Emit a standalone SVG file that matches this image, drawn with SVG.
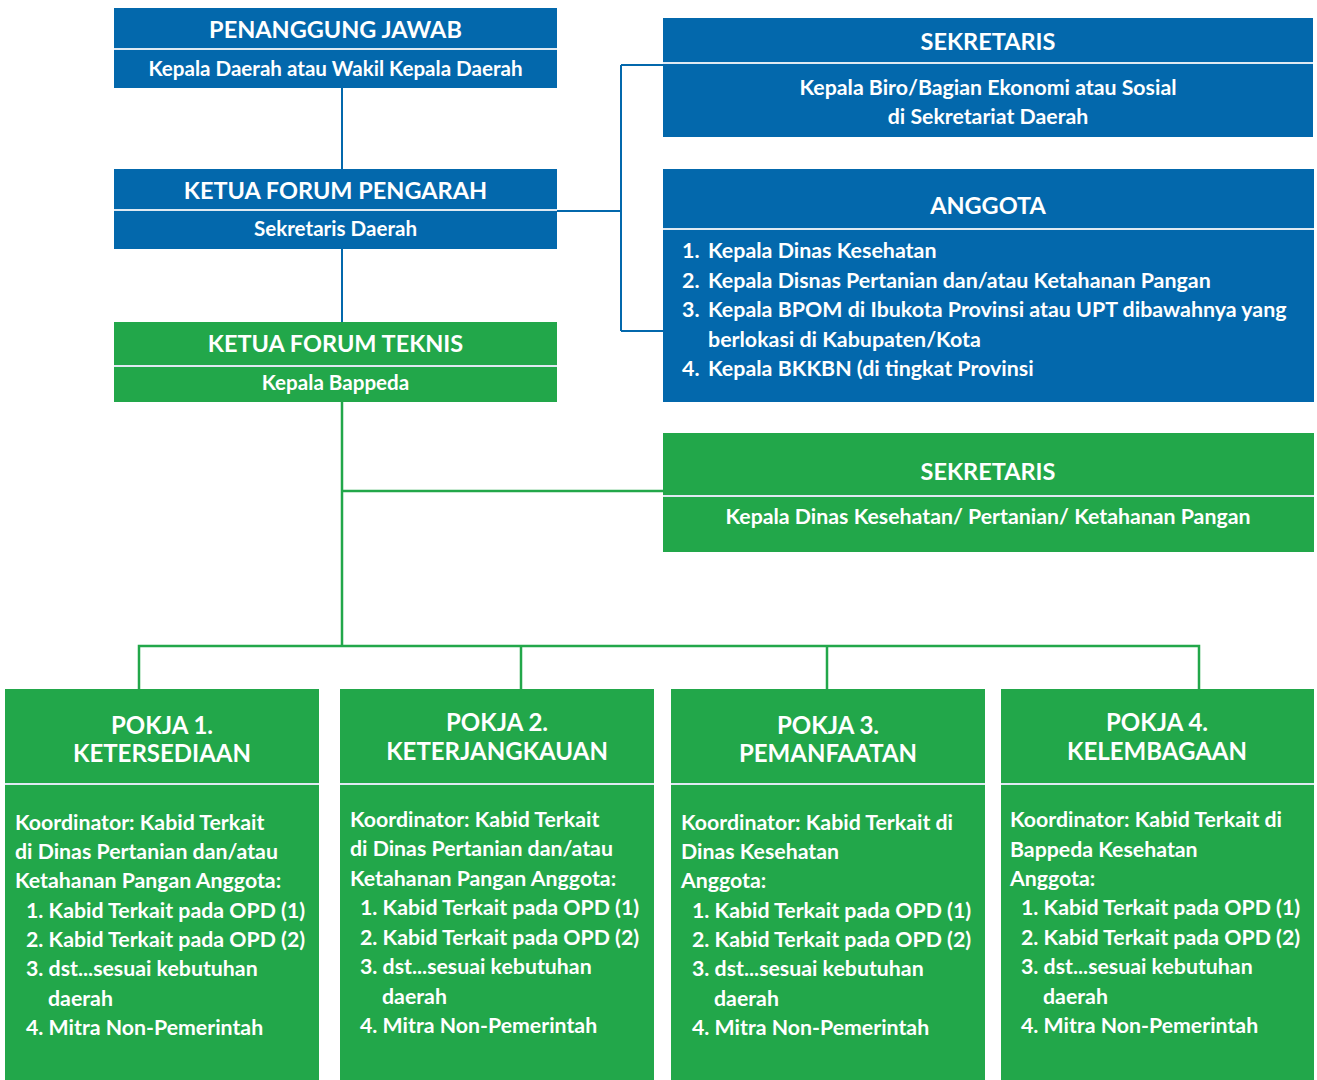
<svg xmlns="http://www.w3.org/2000/svg" width="1317" height="1080" viewBox="0 0 1317 1080">
<style>
text{font-family:Lato,"Noto Sans","Liberation Sans",sans-serif;font-weight:700;fill:#fff}
.blue{fill:#0368ac}
.green{fill:#22a74a}
.sep{stroke:#dfe9f2;stroke-width:2}
.t{font-size:23.5px;text-anchor:middle}
.p{font-size:24px;text-anchor:middle}
.s{font-size:20.6px;text-anchor:middle}
.m{font-size:21.3px;text-anchor:middle}
.a{font-size:21.4px}
.l{font-size:21.3px}
.cb{stroke:#0368ac;stroke-width:2;fill:none}
.cg{stroke:#22a74a;stroke-width:2.5;fill:none}
</style>
<rect width="1317" height="1080" fill="#fff"/>
<g id="connectors">
<path class="cb" d="M342 88V169M342 249V322M557 211H621M621 65V331M621 65H663M621 331H663"/>
<path class="cg" d="M342 402V646M342 491H663M139 689V646H1199V689M521 646V689M827 646V689"/>
</g>
<g id="penanggung-jawab">
<rect class="blue" x="114" y="8" width="443" height="80"/>
<line class="sep" x1="114" y1="49" x2="557" y2="49"/>
<text class="t" x="335.5" y="38">PENANGGUNG JAWAB</text>
<text class="s" x="335.5" y="76">Kepala Daerah atau Wakil Kepala Daerah</text>
</g>
<g id="ketua-forum-pengarah">
<rect class="blue" x="114" y="169" width="443" height="80"/>
<line class="sep" x1="114" y1="210" x2="557" y2="210"/>
<text class="t" x="335.5" y="199">KETUA FORUM PENGARAH</text>
<text class="s" x="335.5" y="236">Sekretaris Daerah</text>
</g>
<g id="ketua-forum-teknis">
<rect class="green" x="114" y="322" width="443" height="80"/>
<line class="sep" x1="114" y1="366" x2="557" y2="366"/>
<text class="t" x="335.5" y="352">KETUA FORUM TEKNIS</text>
<text class="s" x="335.5" y="390">Kepala Bappeda</text>
</g>
<g id="sekretaris-pengarah">
<rect class="blue" x="663" y="18" width="650" height="119"/>
<line class="sep" x1="663" y1="63" x2="1313" y2="63"/>
<text class="t" x="988" y="50">SEKRETARIS</text>
<text class="m" x="988" y="95">Kepala Biro/Bagian Ekonomi atau Sosial</text>
<text class="m" x="988" y="124">di Sekretariat Daerah</text>
</g>
<g id="anggota">
<rect class="blue" x="663" y="169" width="651" height="233"/>
<line class="sep" x1="663" y1="229" x2="1314" y2="229"/>
<text class="t" x="988" y="214">ANGGOTA</text>
<text class="a" x="682" y="258">1.</text><text class="a" x="708" y="258">Kepala Dinas Kesehatan</text>
<text class="a" x="682" y="288">2.</text><text class="a" x="708" y="288">Kepala Disnas Pertanian dan/atau Ketahanan Pangan</text>
<text class="a" x="682" y="317">3.</text><text class="a" x="708" y="317">Kepala BPOM di Ibukota Provinsi atau UPT dibawahnya yang</text>
<text class="a" x="708" y="347">berlokasi di Kabupaten/Kota</text>
<text class="a" x="682" y="376">4.</text><text class="a" x="708" y="376">Kepala BKKBN (di tingkat Provinsi</text>
</g>
<g id="sekretaris-teknis">
<rect class="green" x="663" y="433" width="651" height="119"/>
<line class="sep" x1="663" y1="496" x2="1314" y2="496"/>
<text class="t" x="988" y="480">SEKRETARIS</text>
<text class="m" x="988" y="524">Kepala Dinas Kesehatan/ Pertanian/ Ketahanan Pangan</text>
</g>
<g id="pokja-1">
<rect class="green" x="5" y="689" width="314" height="391"/>
<line class="sep" x1="5" y1="784" x2="319" y2="784"/>
<text class="p" x="162" y="734">POKJA 1.</text>
<text class="p" x="162" y="762">KETERSEDIAAN</text>
<text class="l" x="15" y="830">Koordinator: Kabid Terkait</text>
<text class="l" x="15" y="859">di Dinas Pertanian dan/atau</text>
<text class="l" x="15" y="888">Ketahanan Pangan Anggota:</text>
<text class="l" x="26" y="918">1. Kabid Terkait pada OPD (1)</text>
<text class="l" x="26" y="947">2. Kabid Terkait pada OPD (2)</text>
<text class="l" x="26" y="976">3. dst...sesuai kebutuhan</text>
<text class="l" x="48" y="1006">daerah</text>
<text class="l" x="26" y="1035">4. Mitra Non-Pemerintah</text>
</g>
<g id="pokja-2">
<rect class="green" x="340" y="689" width="314" height="391"/>
<line class="sep" x1="340" y1="784" x2="654" y2="784"/>
<text class="p" x="497" y="731">POKJA 2.</text>
<text class="p" x="497" y="760">KETERJANGKAUAN</text>
<text class="l" x="350" y="827">Koordinator: Kabid Terkait</text>
<text class="l" x="350" y="856">di Dinas Pertanian dan/atau</text>
<text class="l" x="350" y="886">Ketahanan Pangan Anggota:</text>
<text class="l" x="360" y="915">1. Kabid Terkait pada OPD (1)</text>
<text class="l" x="360" y="945">2. Kabid Terkait pada OPD (2)</text>
<text class="l" x="360" y="974">3. dst...sesuai kebutuhan</text>
<text class="l" x="382" y="1004">daerah</text>
<text class="l" x="360" y="1033">4. Mitra Non-Pemerintah</text>
</g>
<g id="pokja-3">
<rect class="green" x="671" y="689" width="314" height="391"/>
<line class="sep" x1="671" y1="784" x2="985" y2="784"/>
<text class="p" x="828" y="734">POKJA 3.</text>
<text class="p" x="828" y="762">PEMANFAATAN</text>
<text class="l" x="681" y="830">Koordinator: Kabid Terkait di</text>
<text class="l" x="681" y="859">Dinas Kesehatan</text>
<text class="l" x="681" y="888">Anggota:</text>
<text class="l" x="692" y="918">1. Kabid Terkait pada OPD (1)</text>
<text class="l" x="692" y="947">2. Kabid Terkait pada OPD (2)</text>
<text class="l" x="692" y="976">3. dst...sesuai kebutuhan</text>
<text class="l" x="714" y="1006">daerah</text>
<text class="l" x="692" y="1035">4. Mitra Non-Pemerintah</text>
</g>
<g id="pokja-4">
<rect class="green" x="1001" y="689" width="313" height="391"/>
<line class="sep" x1="1001" y1="784" x2="1314" y2="784"/>
<text class="p" x="1157" y="731">POKJA 4.</text>
<text class="p" x="1157" y="760">KELEMBAGAAN</text>
<text class="l" x="1010" y="827">Koordinator: Kabid Terkait di</text>
<text class="l" x="1010" y="857">Bappeda Kesehatan</text>
<text class="l" x="1010" y="886">Anggota:</text>
<text class="l" x="1021" y="915">1. Kabid Terkait pada OPD (1)</text>
<text class="l" x="1021" y="945">2. Kabid Terkait pada OPD (2)</text>
<text class="l" x="1021" y="974">3. dst...sesuai kebutuhan</text>
<text class="l" x="1043" y="1004">daerah</text>
<text class="l" x="1021" y="1033">4. Mitra Non-Pemerintah</text>
</g>
</svg>
